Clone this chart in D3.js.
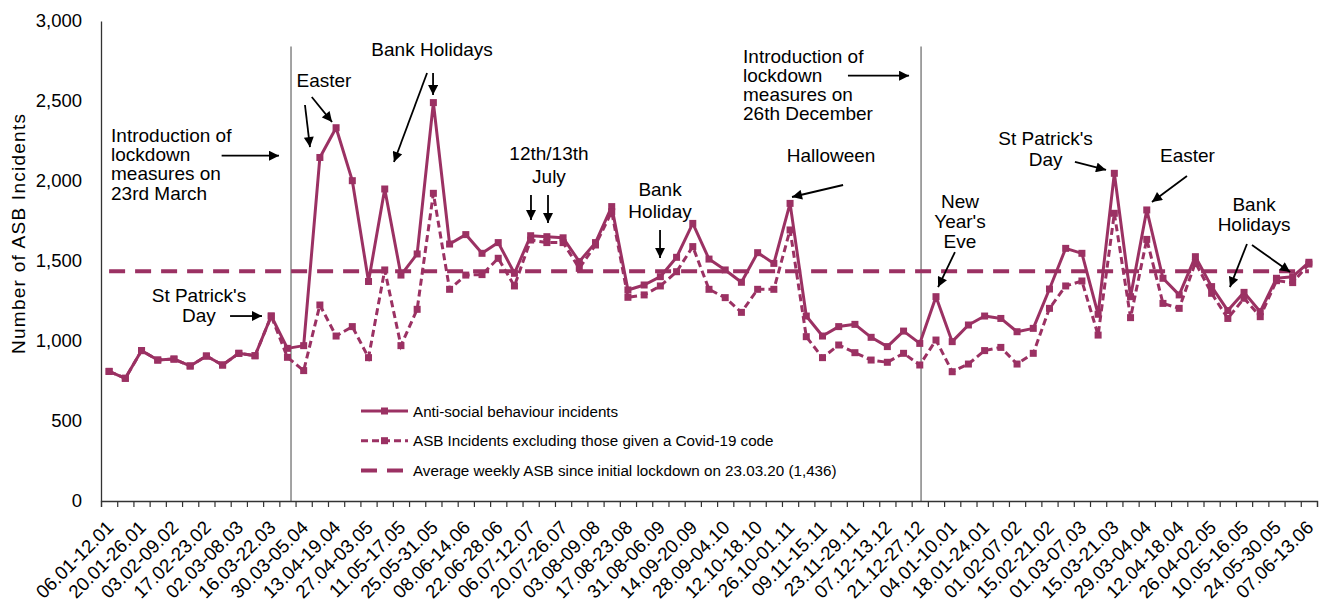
<!DOCTYPE html>
<html>
<head>
<meta charset="utf-8">
<script src="https://cdn.jsdelivr.net/npm/d3@7"></script>
<style>
	body { margin: 0; background: #fff; }
	svg text { font-family: Arial, "Liberation Sans", sans-serif; fill: #000; }
</style>
</head>
<body>
<svg id="chart" width="1325" height="605"></svg>
<script>
// weekly categories, 06.01.2020 - 13.06.2021
var weeks = [
	'06.01-12.01','13.01-19.01','20.01-26.01','27.01-02.02','03.02-09.02','10.02-16.02','17.02-23.02','24.02-01.03',
	'02.03-08.03','09.03-15.03','16.03-22.03','23.03-29.03','30.03-05.04','06.04-12.04','13.04-19.04','20.04-26.04',
	'27.04-03.05','04.05-10.05','11.05-17.05','18.05-24.05','25.05-31.05','01.06-07.06','08.06-14.06','15.06-21.06',
	'22.06-28.06','29.06-05.07','06.07-12.07','13.07-19.07','20.07-26.07','27.07-02.08','03.08-09.08','10.08-16.08',
	'17.08-23.08','24.08-30.08','31.08-06.09','07.09-13.09','14.09-20.09','21.09-27.09','28.09-04.10','05.10-11.10',
	'12.10-18.10','19.10-25.10','26.10-01.11','02.11-08.11','09.11-15.11','16.11-22.11','23.11-29.11','30.11-06.12',
	'07.12-13.12','14.12-20.12','21.12-27.12','28.12-03.01','04.01-10.01','11.01-17.01','18.01-24.01','25.01-31.01',
	'01.02-07.02','08.02-14.02','15.02-21.02','22.02-28.02','01.03-07.03','08.03-14.03','15.03-21.03','22.03-28.03',
	'29.03-04.04','05.04-11.04','12.04-18.04','19.04-25.04','26.04-02.05','03.05-09.05','10.05-16.05','17.05-23.05',
	'24.05-30.05','31.05-06.06','07.06-13.06'
];

var asbAll = [
	810, 767, 940, 881, 887, 844, 906, 850, 923, 908, 1156, 954, 971, 2147, 2333, 2002,
	1372, 1950, 1412, 1544, 2490, 1606, 1665, 1548, 1615, 1423, 1658, 1652, 1645, 1496, 1615, 1840,
	1319, 1350, 1402, 1523, 1735, 1512, 1444, 1367, 1552, 1485, 1860, 1156, 1031, 1090, 1104, 1023,
	965, 1062, 985, 1277, 996, 1100, 1156, 1141, 1058, 1079, 1325, 1579, 1548, 1167, 2048, 1277,
	1819, 1392, 1288, 1527, 1340, 1190, 1304, 1183, 1392, 1402, 1492
];

var asbExCovid = [
	810, 767, 940, 881, 887, 844, 906, 850, 923, 908, 1156, 898, 815, 1225, 1031, 1090,
	896, 1444, 971, 1198, 1923, 1323, 1412, 1415, 1517, 1344, 1631, 1615, 1615, 1454, 1600, 1808,
	1273, 1288, 1344, 1433, 1590, 1323, 1271, 1179, 1323, 1323, 1694, 1027, 896, 975, 927, 881,
	867, 923, 850, 1006, 808, 856, 940, 960, 856, 923, 1204, 1344, 1375, 1037, 1798, 1146,
	1635, 1235, 1204, 1490, 1298, 1141, 1267, 1152, 1377, 1365, 1481
];

var avgWeekly = 1436;
var yTicks = [0, 500, 1000, 1500, 2000, 2500, 3000];

var legendLabels = [
	'Anti-social behaviour incidents',
	'ASB Incidents excluding those given a Covid-19 code',
	'Average weekly ASB since initial lockdown on 23.03.20 (1,436)'
];

// lockdown markers: week index + position inside the week
var lockdowns = [ { week: 11, frac: 0.72 }, { week: 50, frac: 0.58 } ];

// annotations in chart units (week index, incidents)
var notes = [
	{ lines: ['Introduction of', 'lockdown', 'measures on', '23rd March'], u: 0.62, v: 2246, anchor: 'start', lh: 19.3,
		arrows: [[7.44, 2158, 10.98, 2158]] },
	{ lines: ["St Patrick's", 'Day'], u: 6.04, v: 1241, anchor: 'middle', lh: 19.2,
		arrows: [[7.96, 1156, 9.93, 1156]] },
	{ lines: ['Easter'], u: 13.75, v: 2590, anchor: 'middle', lh: 19,
		arrows: [[12.58, 2475, 12.89, 2212], [13.0, 2525, 14.25, 2369]] },
	{ lines: ['Bank Holidays'], u: 20.42, v: 2781, anchor: 'middle', lh: 19,
		arrows: [[20.11, 2675, 18.07, 2119], [20.48, 2675, 20.48, 2537]] },
	{ lines: ['12th/13th', 'July'], u: 27.63, v: 2131, anchor: 'middle', lh: 23,
		arrows: [[26.52, 1912, 26.52, 1756], [27.57, 1912, 27.57, 1737]] },
	{ lines: ['Bank', 'Holiday'], u: 34.48, v: 1906, anchor: 'middle', lh: 22,
		arrows: [[34.48, 1694, 34.48, 1519]] },
	{ lines: ['Introduction of', 'lockdown', 'measures on', '26th December'], u: 39.6, v: 2738, anchor: 'start', lh: 19,
		arrows: [[46.07, 2658, 49.84, 2658]] },
	{ lines: ['Halloween'], u: 45.03, v: 2121, anchor: 'middle', lh: 19,
		arrows: [[45.77, 1975, 42.62, 1900]] },
	{ lines: ['New', "Year's", 'Eve'], u: 52.98, v: 1831, anchor: 'middle', lh: 19.8,
		arrows: [[52.67, 1556, 51.63, 1337]] },
	{ lines: ["St Patrick's", 'Day'], u: 58.26, v: 2225, anchor: 'middle', lh: 21,
		arrows: [[60.07, 2119, 61.99, 2069]] },
	{ lines: ['Easter'], u: 67.01, v: 2121, anchor: 'middle', lh: 19,
		arrows: [[66.98, 2031, 64.82, 1869]] },
	{ lines: ['Bank', 'Holidays'], u: 71.12, v: 1810, anchor: 'middle', lh: 19.5,
		arrows: [[70.68, 1606, 69.63, 1337], [70.99, 1600, 73.34, 1431]] }
];

var colour = '#9B3163';
var svg = d3.select('#chart');

var x = d3.scaleLinear().domain([0, weeks.length]).range([101, 1317]);
var y = d3.scaleLinear().domain([0, 3000]).range([501, 21]);
var cx = function(i){ return x(i + 0.5); };

// arrow head
svg.append('defs').append('marker')
	.attr('id', 'head')
	.attr('markerUnits', 'userSpaceOnUse')
	.attr('viewBox', '0 0 10 10')
	.attr('markerWidth', 11)
	.attr('markerHeight', 10)
	.attr('refX', 10)
	.attr('refY', 5)
	.attr('orient', 'auto')
	.append('path')
	.attr('d', 'M0,0 L10,5 L0,10 Z')
	.attr('fill', '#000');

// lockdown lines
svg.selectAll('.lockdown')
	.data(lockdowns)
	.enter().append('line')
	.attr('class', 'lockdown')
	.attr('x1', function(d){ return x(d.week + d.frac); })
	.attr('x2', function(d){ return x(d.week + d.frac); })
	.attr('y1', y(0))
	.attr('y2', y(2840))
	.attr('stroke', '#8c8c8c')
	.attr('stroke-width', 1.6);

// y axis
var yAxis = svg.append('g')
	.attr('transform', 'translate(' + x(0) + ',0)')
	.call(d3.axisLeft(y).tickValues(yTicks).tickSize(0).tickPadding(19).tickFormat(d3.format(',')));
yAxis.select('.domain').attr('stroke', '#333').attr('stroke-width', 1.3);
yAxis.selectAll('text').attr('font-size', 18.5).attr('font-family', 'Arial, "Liberation Sans", sans-serif');

svg.append('text')
	.attr('transform', 'translate(25,234) rotate(-90)')
	.attr('text-anchor', 'middle')
	.attr('font-size', 19)
	.attr('textLength', 240)
	.attr('lengthAdjust', 'spacing')
	.text('Number of ASB Incidents');

// x axis: ticks between weeks
var xAxis = svg.append('g')
	.attr('transform', 'translate(0,' + y(0) + ')')
	.call(d3.axisBottom(x).tickValues(d3.range(0, weeks.length + 1)).tickSize(6).tickFormat(''));
xAxis.select('.domain').attr('stroke', '#333').attr('stroke-width', 1.3);
xAxis.selectAll('.tick line').attr('stroke', '#333').attr('stroke-width', 1.2);

svg.append('g').selectAll('text')
	.data(weeks)
	.enter().append('text')
	.filter(function(d, i){ return i % 2 == 0; })
	.attr('transform', function(d){
		var idx = weeks.indexOf(d);
		return 'translate(' + (cx(idx) + 1) + ',524) rotate(-45)';
	})
	.attr('text-anchor', 'end')
	.attr('dy', '0.35em')
	.attr('font-size', 18.8)
	.text(function(d){ return d; });

// series
var line = d3.line()
	.x(function(d, i){ return cx(i); })
	.y(function(d){ return y(d); });

svg.append('path')
	.datum(asbAll)
	.attr('d', line)
	.attr('fill', 'none')
	.attr('stroke', colour)
	.attr('stroke-width', 3)
	.attr('stroke-linejoin', 'round');

svg.append('path')
	.datum(asbExCovid)
	.attr('d', line)
	.attr('fill', 'none')
	.attr('stroke', colour)
	.attr('stroke-width', 3)
	.attr('stroke-dasharray', '7,4');

var markSize = 7;
[asbAll, asbExCovid].forEach(function(series){
	svg.append('g').selectAll('rect')
		.data(series)
		.enter().append('rect')
		.attr('x', function(d, i){ return cx(i) - markSize / 2; })
		.attr('y', function(d){ return y(d) - markSize / 2; })
		.attr('width', markSize)
		.attr('height', markSize)
		.attr('fill', colour);
});

var avgSeries = weeks.map(function(){ return avgWeekly; });
svg.append('path')
	.datum(avgSeries)
	.attr('d', line)
	.attr('fill', 'none')
	.attr('stroke', colour)
	.attr('stroke-width', 4)
	.attr('stroke-dasharray', '16,10');

// legend
var legend = svg.append('g').attr('transform', 'translate(361,411)');
legendLabels.forEach(function(lbl, i){
	var row = legend.append('g').attr('transform', 'translate(0,' + (i * 29.7) + ')');
	var ln = row.append('line')
		.attr('x1', 0).attr('x2', 47)
		.attr('stroke', colour);
	if (i == 0){
		ln.attr('stroke-width', 3);
	}else if (i == 1){
		ln.attr('stroke-width', 3).attr('stroke-dasharray', '7,4');
	}else{
		ln.attr('stroke-width', 4).attr('stroke-dasharray', '16,10');
	}
	if (i < 2){
		row.append('rect')
			.attr('x', 23.5 - markSize / 2).attr('y', -markSize / 2)
			.attr('width', markSize).attr('height', markSize)
			.attr('fill', colour);
	}
	row.append('text')
		.attr('x', 52)
		.attr('y', 5.5)
		.attr('font-size', 15.2)
		.text(lbl);
});

// annotations
notes.forEach(function(n){
	var t = svg.append('text')
		.attr('x', x(n.u))
		.attr('y', y(n.v))
		.attr('text-anchor', n.anchor)
		.attr('font-size', 19);
	n.lines.forEach(function(s, k){
		t.append('tspan')
			.attr('x', x(n.u))
			.attr('dy', k == 0 ? 0 : n.lh)
			.text(s);
	});
	n.arrows.forEach(function(a){
		svg.append('line')
			.attr('x1', x(a[0])).attr('y1', y(a[1]))
			.attr('x2', x(a[2])).attr('y2', y(a[3]))
			.attr('stroke', '#000')
			.attr('stroke-width', 1.8)
			.attr('marker-end', 'url(#head)');
	});
});
</script>
</body>
</html>
